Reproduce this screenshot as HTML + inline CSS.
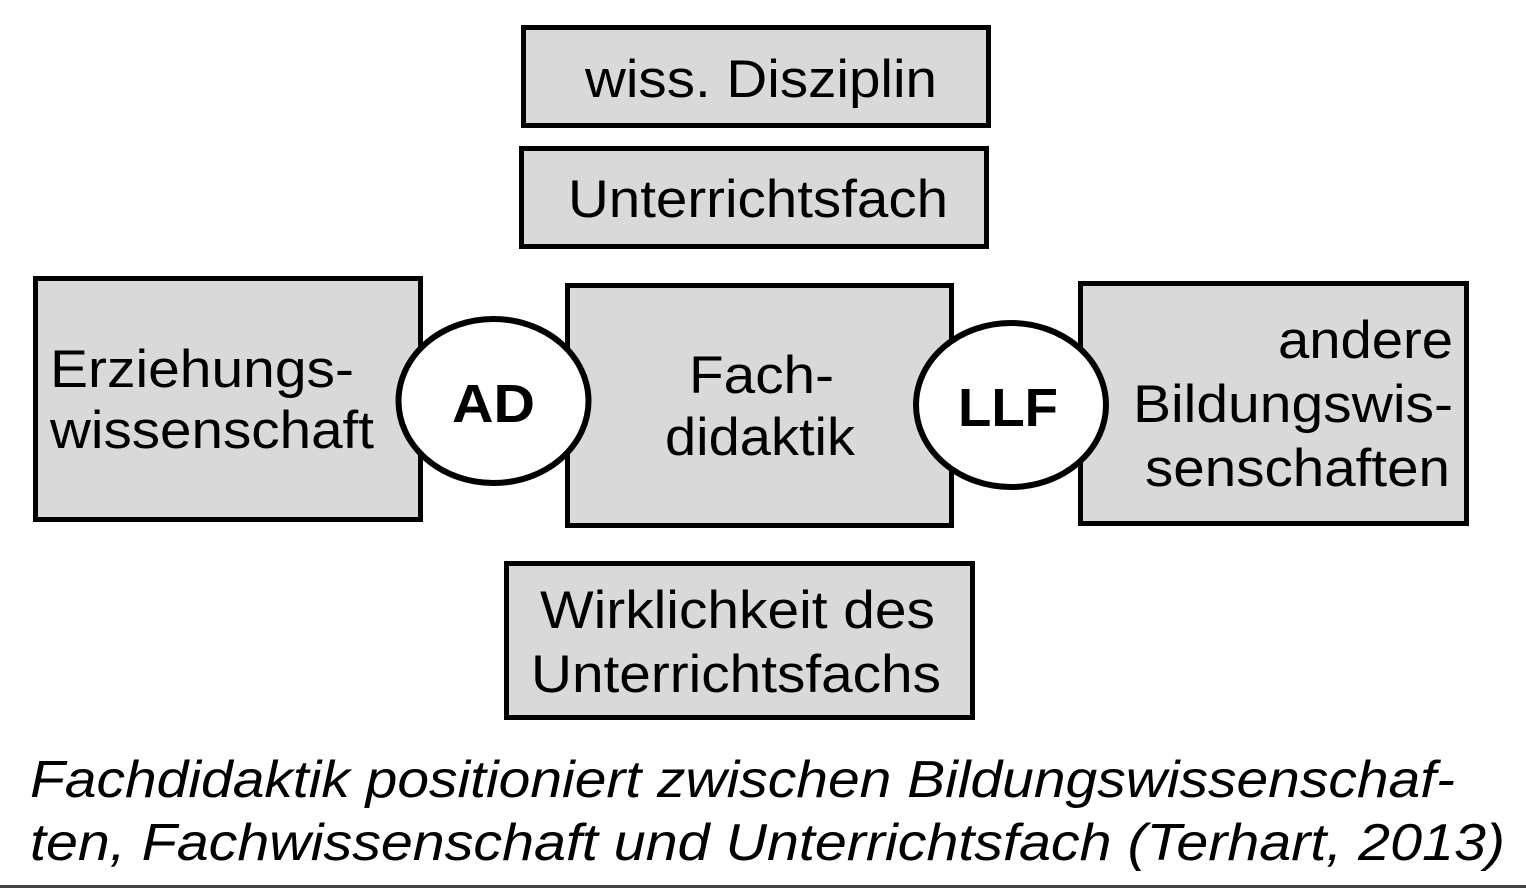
<!DOCTYPE html>
<html><head><style>body{margin:0;background:#fff}svg{display:block}</style></head><body>
<svg width="1526" height="888" viewBox="0 0 1526 888" xmlns="http://www.w3.org/2000/svg" font-family="Liberation Sans, Arial, sans-serif">
<g fill="#d9d9d9" stroke="#000" stroke-width="5">
<rect x="523.5" y="27.5" width="465" height="98"/>
<rect x="521.5" y="148.5" width="465" height="98"/>
<rect x="35.5" y="278.5" width="385" height="241"/>
<rect x="567.5" y="285.5" width="384" height="240"/>
<rect x="1080.5" y="283.5" width="386" height="240"/>
<rect x="506.5" y="563.5" width="466" height="154"/>
</g>
<g fill="#fff" stroke="#000" stroke-width="6">
<ellipse cx="493.5" cy="401" rx="95" ry="82"/>
<ellipse cx="1011" cy="405" rx="95" ry="82"/>
</g>
<g font-size="53" fill="#000">
<text x="585" y="97" textLength="352" lengthAdjust="spacingAndGlyphs">wiss. Disziplin</text>
<text x="568" y="217" textLength="380" lengthAdjust="spacingAndGlyphs">Unterrichtsfach</text>
<text x="50" y="387" textLength="304" lengthAdjust="spacingAndGlyphs">Erziehungs-</text>
<text x="50" y="448" textLength="324" lengthAdjust="spacingAndGlyphs">wissenschaft</text>
<text x="689" y="393" textLength="145" lengthAdjust="spacingAndGlyphs">Fach-</text>
<text x="665" y="455" textLength="190" lengthAdjust="spacingAndGlyphs">didaktik</text>
<text x="1278" y="358" textLength="175" lengthAdjust="spacingAndGlyphs">andere</text>
<text x="1133" y="422" textLength="320" lengthAdjust="spacingAndGlyphs">Bildungswis-</text>
<text x="1145" y="486" textLength="305" lengthAdjust="spacingAndGlyphs">senschaften</text>
<text x="540" y="628" textLength="395" lengthAdjust="spacingAndGlyphs">Wirklichkeit des</text>
<text x="531" y="692" textLength="410" lengthAdjust="spacingAndGlyphs">Unterrichtsfachs</text>
</g>
<g font-size="54" font-weight="bold" fill="#000">
<text x="452" y="422" textLength="83" lengthAdjust="spacingAndGlyphs">AD</text>
<text x="958" y="426" textLength="100" lengthAdjust="spacingAndGlyphs">LLF</text>
</g>
<g font-size="52" font-style="italic" fill="#000">
<text x="30" y="797" textLength="1425" lengthAdjust="spacingAndGlyphs">Fachdidaktik positioniert zwischen Bildungswissenschaf-</text>
<text x="30" y="860" textLength="1475" lengthAdjust="spacingAndGlyphs">ten, Fachwissenschaft und Unterrichtsfach (Terhart, 2013)</text>
</g>
<rect x="0" y="885" width="1526" height="3" fill="#444"/>
</svg>
</body></html>
